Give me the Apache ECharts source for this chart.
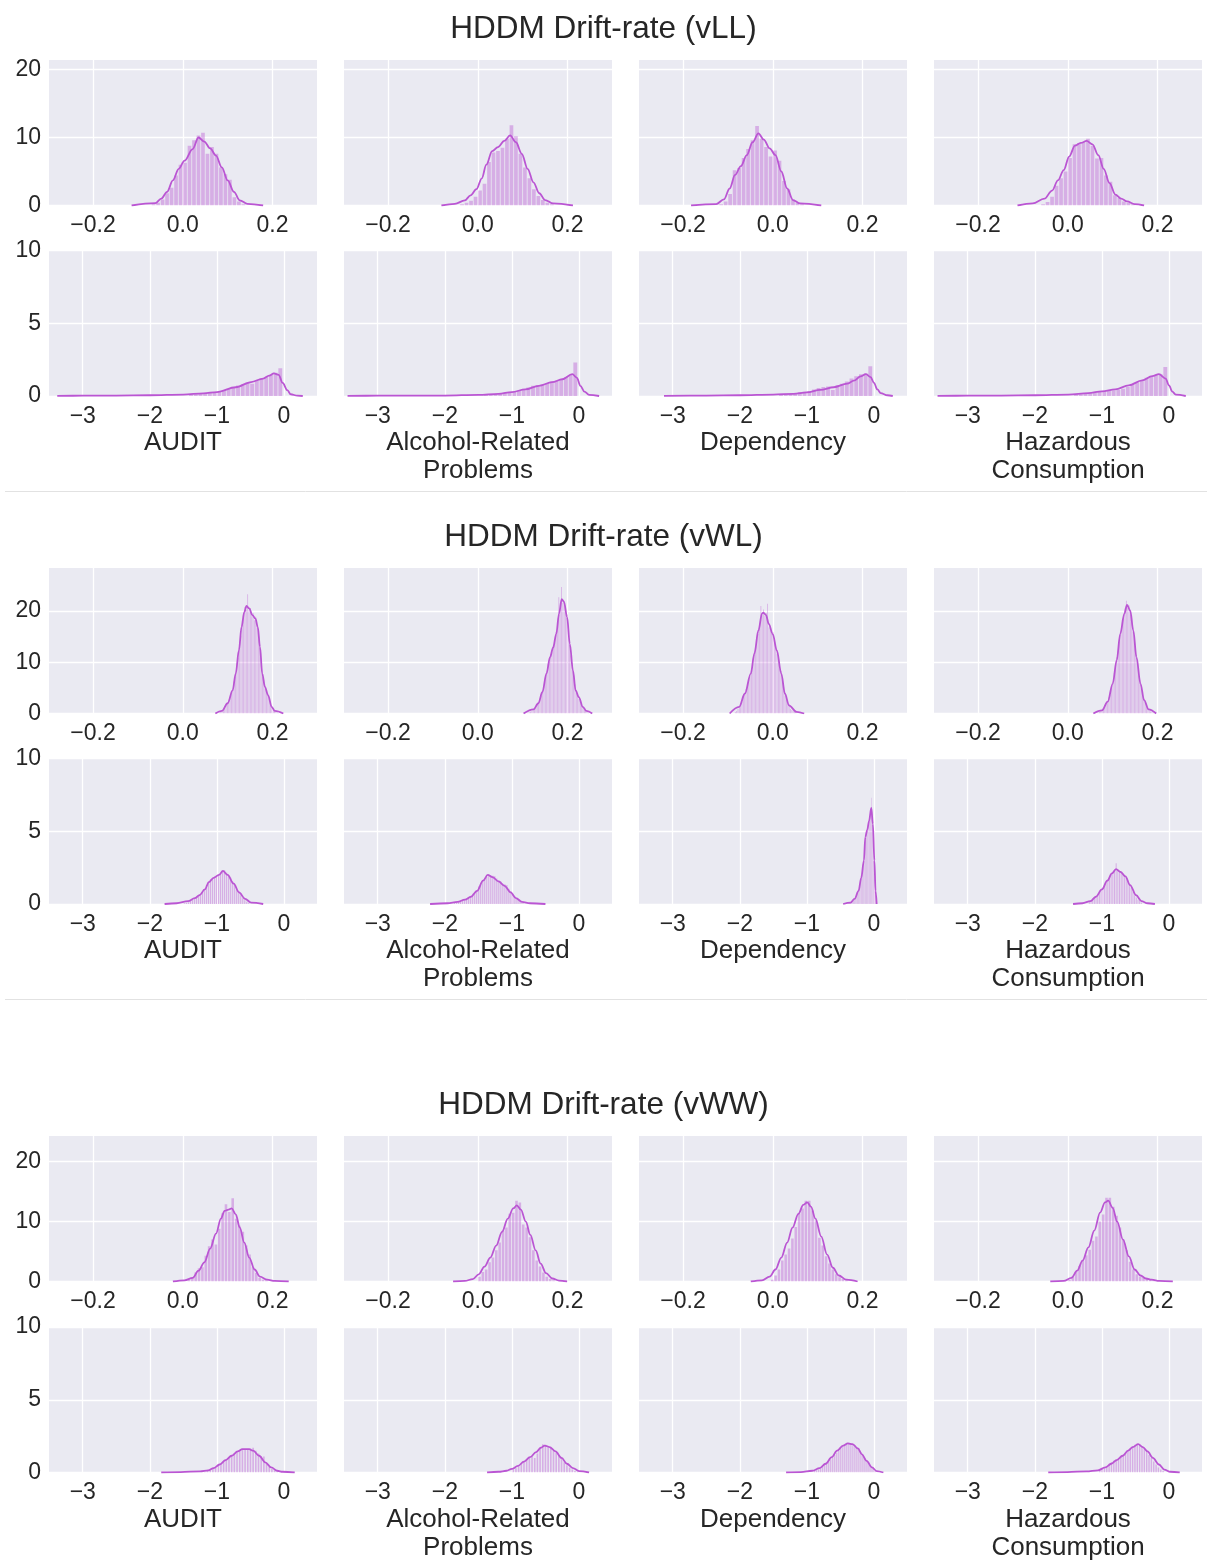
<!DOCTYPE html>
<html><head><meta charset="utf-8">
<script src="https://cdn.jsdelivr.net/npm/echarts@6/dist/echarts.min.js"></script>
<style>html,body{margin:0;padding:0;background:#fff;}#chart{width:1207px;height:1562px;}</style>
</head><body><div id="chart"></div>
<script>
// ---------- labels ----------
const sectionTitles = ['HDDM Drift-rate (vLL)', 'HDDM Drift-rate (vWL)', 'HDDM Drift-rate (vWW)'];
const measureNames = ['AUDIT', 'Alcohol-Related\nProblems', 'Dependency', 'Hazardous\nConsumption'];
const topXTicks = [-0.2, 0, 0.2];
const botXTicks = [-3, -2, -1, 0];
const topYTicks = [0, 10, 20];
const botYTicks = [0, 5, 10];

// ---------- vLL, upper row (bins = [first edge, width]) ----------
const LL_AUDIT_a_bins = [-0.07, 0.01];
const LL_AUDIT_a_hist = [0.2,0.4,0.9,1.8,2.6,4.4,6.0,6.3,8.8,9.6,10.3,10.7,7.6,8.6,7.6,5.6,4.6,3.8,1.2,0.6,0.2];
const LL_AUDIT_a_kde = [[-0.114,0],[-0.061,0.35],[-0.048,1.0],[-0.035,2.0],[-0.022,3.7],[-0.009,5.4],[0.004,6.6],[0.022,8.3],[0.035,10.0],[0.048,9.4],[0.061,8.4],[0.074,7.35],[0.087,5.6],[0.1,3.7],[0.114,2.0],[0.127,0.75],[0.144,0.25],[0.179,0]];
const LL_ARP_a_bins = [-0.04, 0.01];
const LL_ARP_a_hist = [0.2,0.4,0.7,1.3,2.2,3.2,6.4,7.8,8.0,8.5,9.8,11.8,10.2,7.6,5.6,4.0,2.4,1.4,0.8,0.4,0.2];
const LL_ARP_a_kde = [[-0.081,0],[-0.051,0.25],[-0.029,0.75],[-0.016,1.5],[-0.003,2.4],[0.009,4.0],[0.019,6.0],[0.032,8.0],[0.045,8.6],[0.059,9.5],[0.072,10.3],[0.085,9.3],[0.098,7.6],[0.111,5.4],[0.124,3.4],[0.137,1.8],[0.15,0.8],[0.168,0.3],[0.212,0]];
const LL_DEP_a_bins = [-0.12, 0.01];
const LL_DEP_a_hist = [0.2,0.6,1.7,5.2,5.5,7.0,8.3,9.6,11.7,9.8,8.6,7.2,8.1,6.6,3.6,2.4,0.9,0.4,0.2];
const LL_DEP_a_kde = [[-0.182,0],[-0.126,0.2],[-0.109,0.9],[-0.096,2.5],[-0.084,4.5],[-0.071,5.8],[-0.058,7.4],[-0.045,9.3],[-0.032,10.6],[-0.02,9.7],[-0.007,8.4],[0.006,7.4],[0.019,5.0],[0.032,2.5],[0.045,0.8],[0.061,0.3],[0.108,0]];
const LL_HAZ_a_bins = [-0.06, 0.01];
const LL_HAZ_a_hist = [0.2,0.5,1.3,2.9,4.0,5.0,7.0,9.0,9.2,9.3,9.8,8.8,6.9,7.0,4.4,3.5,1.5,1.1,0.6,0.4,0.2];
const LL_HAZ_a_kde = [[-0.112,0],[-0.078,0.3],[-0.052,1.0],[-0.035,2.2],[-0.022,3.7],[-0.009,5.2],[0.003,7.2],[0.016,8.8],[0.029,9.2],[0.042,9.5],[0.055,9.0],[0.068,7.4],[0.08,5.4],[0.093,3.3],[0.106,1.6],[0.119,1.0],[0.132,0.6],[0.149,0.2],[0.17,0]];

// ---------- vLL, lower row ----------
const LL_AUDIT_b_bins = [-1.42, 0.07];
const LL_AUDIT_b_hist = [0.1,0.12,0.15,0.18,0.22,0.28,0.33,0.42,0.48,0.55,0.72,0.8,0.92,0.85,1.05,1.2,1.3,1.45,1.6,1.9];
const LL_AUDIT_b_kde = [[-3.38,0.01],[-3.0,0.02],[-2.5,0.03],[-2.0,0.05],[-1.5,0.1],[-1.2,0.18],[-1.0,0.27],[-0.72,0.6],[-0.49,0.96],[-0.31,1.2],[-0.22,1.4],[-0.15,1.55],[-0.08,1.45],[-0.02,0.9],[0.05,0.4],[0.1,0.12],[0.2,0.02],[0.28,0]];
const LL_ARP_b_bins = [-1.42, 0.07];
const LL_ARP_b_hist = [0.08,0.1,0.13,0.17,0.2,0.25,0.3,0.38,0.45,0.58,0.7,0.75,0.8,0.88,1.0,1.05,1.15,1.3,1.45,2.3];
const LL_ARP_b_kde = [[-3.45,0.01],[-3.0,0.02],[-2.5,0.02],[-2.0,0.03],[-1.5,0.08],[-1.2,0.15],[-1.0,0.27],[-0.8,0.45],[-0.6,0.7],[-0.4,0.95],[-0.25,1.15],[-0.1,1.5],[-0.03,1.25],[0.02,0.7],[0.08,0.3],[0.15,0.08],[0.3,0]];
const LL_DEP_b_bins = [-1.42, 0.07];
const LL_DEP_b_hist = [0.1,0.12,0.15,0.2,0.25,0.3,0.35,0.45,0.55,0.62,0.65,0.42,0.75,0.85,1.0,1.2,1.35,1.5,1.55,2.05];
const LL_DEP_b_kde = [[-3.13,0.01],[-2.5,0.03],[-2.0,0.05],[-1.5,0.1],[-1.2,0.15],[-1.0,0.25],[-0.8,0.42],[-0.6,0.6],[-0.4,0.85],[-0.3,1.05],[-0.2,1.35],[-0.12,1.5],[-0.05,1.3],[0.0,0.9],[0.05,0.45],[0.1,0.2],[0.2,0.05],[0.28,0]];
const LL_HAZ_b_bins = [-1.42, 0.07];
const LL_HAZ_b_hist = [0.1,0.12,0.15,0.18,0.22,0.28,0.32,0.36,0.38,0.42,0.5,0.62,0.8,0.95,1.1,1.25,1.35,1.45,1.5,2.0];
const LL_HAZ_b_kde = [[-3.45,0.01],[-3.0,0.02],[-2.5,0.03],[-2.0,0.05],[-1.5,0.1],[-1.2,0.2],[-1.0,0.32],[-0.8,0.45],[-0.6,0.73],[-0.4,1.07],[-0.25,1.37],[-0.15,1.5],[-0.05,1.2],[0.0,0.73],[0.05,0.3],[0.1,0.1],[0.25,0]];

// ---------- vWL, upper row ----------
const WL_AUDIT_a_bins = [0.08, 0.003];
const WL_AUDIT_a_hist = [0.2,0.4,0.5,0.8,1.0,1.6,1.9,2.7,3.2,4.1,4.5,6.3,7.2,9.8,10.9,14.0,15.2,18.1,18.6,20.8,20.2,23.3,20.1,20.6,19.0,19.6,18.2,18.9,17.0,16.3,13.0,10.9,7.1,6.5,4.8,4.5,3.5,2.9,1.9,1.4,0.8,0.5,0.3,0.2,0.1];
const WL_AUDIT_a_kde = [[0.0725,0],[0.087,0.5],[0.1,2.0],[0.111,4.5],[0.118,7.8],[0.125,12.3],[0.131,16.9],[0.137,19.8],[0.142,21.0],[0.148,20.5],[0.155,19.2],[0.162,18.5],[0.167,16.9],[0.172,13.0],[0.177,7.8],[0.183,5.2],[0.19,3.6],[0.198,1.3],[0.205,0.5],[0.224,0]];
const WL_ARP_a_bins = [0.11, 0.003];
const WL_ARP_a_hist = [0.15,0.25,0.4,0.5,0.7,1.1,1.2,1.8,2.0,2.9,3.4,4.5,5.2,7.0,7.7,9.6,10.1,11.6,11.9,13.4,13.8,15.9,16.8,22.7,20.5,24.7,21.6,22.0,19.8,19.3,16.2,14.3,11.3,9.8,7.2,5.7,4.0,3.7,2.9,2.4,1.6,1.2,0.8,0.6,0.4,0.2];
const WL_ARP_a_kde = [[0.102,0],[0.124,0.8],[0.135,2.0],[0.144,4.2],[0.153,7.8],[0.161,11.0],[0.168,12.9],[0.175,15.6],[0.181,19.5],[0.187,22.3],[0.192,21.8],[0.199,18.8],[0.205,13.6],[0.212,8.4],[0.218,4.5],[0.225,3.2],[0.234,1.3],[0.242,0.5],[0.255,0]];
const WL_DEP_a_bins = [-0.085, 0.003];
const WL_DEP_a_hist = [0.3,0.5,0.9,1.3,2.0,2.3,3.2,3.7,4.8,5.3,6.8,7.2,8.8,9.6,11.8,12.6,14.9,15.5,17.6,21.0,19.2,20.3,19.1,19.6,21.4,16.8,17.2,15.5,15.9,13.8,13.5,11.6,10.9,8.8,8.3,6.2,5.2,3.5,2.9,1.9,1.6,0.9,0.7,0.5,0.3,0.2];
const WL_DEP_a_kde = [[-0.096,0],[-0.075,1.3],[-0.062,3.9],[-0.049,7.8],[-0.041,11.7],[-0.032,16.2],[-0.024,19.5],[-0.021,19.7],[-0.015,19.2],[-0.009,17.5],[0.0,15.5],[0.009,12.3],[0.019,7.8],[0.027,3.9],[0.036,1.6],[0.053,0.3],[0.07,0]];
const WL_HAZ_a_bins = [0.066, 0.003];
const WL_HAZ_a_hist = [0.2,0.3,0.5,0.6,0.9,1.2,1.9,2.2,3.1,3.7,5.2,5.8,7.9,8.8,11.0,12.3,15.0,16.0,18.3,18.6,20.5,22.0,20.6,21.1,19.3,18.7,15.9,14.8,11.6,10.2,7.6,6.6,4.9,4.1,2.7,2.2,1.4,1.0,0.6,0.4,0.3,0.15];
const WL_HAZ_a_kde = [[0.057,0],[0.076,0.6],[0.089,2.3],[0.1,5.8],[0.109,10.4],[0.117,15.6],[0.126,19.5],[0.132,21.2],[0.139,20.1],[0.146,16.2],[0.153,11.0],[0.162,5.8],[0.17,2.6],[0.18,0.8],[0.197,0]];

// ---------- vWL, lower row ----------
const WL_AUDIT_b_bins = [-1.5, 0.03];
const WL_AUDIT_b_hist = [0.05,0.08,0.12,0.2,0.3,0.35,0.45,0.5,0.6,0.8,1.0,1.3,1.5,1.7,1.8,1.9,1.95,2.0,2.1,2.25,2.3,2.15,2.0,1.8,1.55,1.3,1.05,0.85,0.6,0.4,0.25,0.15,0.08];
const WL_AUDIT_b_kde = [[-1.78,0],[-1.6,0.05],[-1.43,0.2],[-1.33,0.4],[-1.26,0.6],[-1.18,1.0],[-1.12,1.5],[-1.05,1.8],[-0.97,2.0],[-0.91,2.27],[-0.84,2.0],[-0.75,1.4],[-0.67,0.8],[-0.58,0.35],[-0.49,0.1],[-0.31,0]];
const WL_ARP_b_bins = [-1.87, 0.03];
const WL_ARP_b_hist = [0.1,0.12,0.15,0.2,0.3,0.32,0.35,0.45,0.55,0.7,0.8,0.95,1.2,1.4,1.6,1.75,1.85,1.95,2.0,1.95,1.9,1.75,1.6,1.55,1.4,1.35,1.3,1.05,0.9,0.7,0.5,0.35,0.25,0.15,0.1];
const WL_ARP_b_kde = [[-2.22,0],[-1.96,0.05],[-1.81,0.15],[-1.7,0.3],[-1.61,0.5],[-1.52,0.9],[-1.43,1.6],[-1.36,2.0],[-1.29,1.85],[-1.2,1.55],[-1.11,1.25],[-1.02,0.8],[-0.94,0.4],[-0.85,0.15],[-0.73,0.05],[-0.5,0]];
const WL_DEP_b_bins = [-0.4, 0.012];
const WL_DEP_b_hist = [0.05,0.07,0.08,0.09,0.12,0.15,0.2,0.25,0.3,0.4,0.5,0.6,0.7,0.85,1.0,1.25,1.5,1.8,2.1,2.5,2.9,3.4,4.4,4.9,5.0,5.2,5.5,5.8,6.1,6.5,7.3,5.8,4.5,3.3,1.8,0.6];
const WL_DEP_b_kde = [[-0.46,0],[-0.35,0.1],[-0.29,0.35],[-0.23,0.9],[-0.19,1.8],[-0.15,3.0],[-0.13,4.6],[-0.1,5.1],[-0.074,5.7],[-0.04,6.6],[-0.017,5.5],[0.006,3.0],[0.023,0.9],[0.04,0]];
const WL_HAZ_b_bins = [-1.2, 0.025];
const WL_HAZ_b_hist = [0.15,0.25,0.35,0.45,0.55,0.7,0.8,0.95,1.1,1.3,1.5,1.6,1.8,2.0,2.1,2.3,2.8,2.4,2.3,2.2,2.1,2.0,1.8,1.6,1.3,1.1,0.85,0.6,0.45,0.3,0.2,0.1];
const WL_HAZ_b_kde = [[-1.43,0],[-1.29,0.05],[-1.17,0.2],[-1.09,0.5],[-1.0,1.0],[-0.92,1.6],[-0.85,2.1],[-0.79,2.4],[-0.72,2.2],[-0.65,1.9],[-0.58,1.3],[-0.49,0.6],[-0.41,0.2],[-0.32,0.05],[-0.21,0]];

// ---------- vWW, upper row ----------
const WW_AUDIT_a_bins = [0.01, 0.0075];
const WW_AUDIT_a_hist = [0.3,0.6,1.5,2.2,2.4,4.3,5.9,7.0,6.2,8.8,11.4,12.9,11.6,13.9,10.5,9.3,8.3,6.0,4.5,2.4,1.4,0.6,0.3,0.2];
const WW_AUDIT_a_kde = [[-0.022,0],[0.004,0.2],[0.022,0.6],[0.035,1.8],[0.048,3.2],[0.061,5.5],[0.074,8.0],[0.085,10.5],[0.093,11.8],[0.102,12.0],[0.109,12.2],[0.118,11.2],[0.127,9.0],[0.137,6.5],[0.148,4.0],[0.16,2.0],[0.172,0.8],[0.188,0.3],[0.205,0.1],[0.236,0]];
const WW_ARP_a_bins = [0.0, 0.0075];
const WW_ARP_a_hist = [0.8,1.6,2.0,3.2,4.0,5.2,6.5,8.5,9.0,11.3,11.5,13.5,13.2,9.5,9.0,7.4,5.2,3.5,2.5,1.5,0.8,0.4,0.2];
const WW_ARP_a_kde = [[-0.055,0],[-0.029,0.1],[-0.011,0.4],[0.002,1.2],[0.015,2.5],[0.028,4.0],[0.041,6.0],[0.054,8.3],[0.067,10.5],[0.079,12.2],[0.087,12.7],[0.096,12.0],[0.107,10.0],[0.117,7.8],[0.129,5.2],[0.14,3.0],[0.152,1.4],[0.166,0.5],[0.181,0.15],[0.199,0]];
const WW_DEP_a_bins = [-0.005, 0.0075];
const WW_DEP_a_hist = [0.3,1.0,2.0,3.5,4.5,5.5,7.2,9.1,11.4,12.2,13.5,13.5,11.8,10.2,7.3,6.0,4.2,3.0,2.0,1.2,0.7,0.4,0.2];
const WW_DEP_a_kde = [[-0.049,0],[-0.024,0.2],[-0.007,0.8],[0.006,2.0],[0.019,4.0],[0.032,6.5],[0.044,9.0],[0.057,11.3],[0.068,12.8],[0.077,13.2],[0.085,12.5],[0.095,10.5],[0.108,7.5],[0.121,4.5],[0.134,2.3],[0.147,1.0],[0.164,0.3],[0.189,0]];
const WW_HAZ_a_bins = [0.0, 0.0075];
const WW_HAZ_a_hist = [0.3,0.8,1.6,2.6,3.5,4.4,5.3,6.8,7.5,10.0,11.2,14.0,14.0,12.5,11.0,9.0,7.0,5.2,3.3,2.0,1.2,0.8,0.6,0.4,0.3,0.2];
const WW_HAZ_a_kde = [[-0.039,0],[-0.009,0.1],[0.008,0.6],[0.021,1.8],[0.033,3.5],[0.046,5.7],[0.059,8.5],[0.072,11.5],[0.083,13.2],[0.09,13.5],[0.1,12.3],[0.11,10.0],[0.123,7.0],[0.136,4.2],[0.149,2.0],[0.162,1.0],[0.174,0.5],[0.187,0.3],[0.204,0.1],[0.234,0]];

// ---------- vWW, lower row ----------
const WW_AUDIT_b_bins = [-1.2, 0.04];
const WW_AUDIT_b_hist = [0.05,0.1,0.15,0.25,0.35,0.5,0.6,0.75,0.9,1.0,1.15,1.3,1.45,1.55,1.6,1.6,1.6,1.65,1.7,1.5,1.3,1.1,1.1,0.65,0.4,0.25,0.15,0.08];
const WW_AUDIT_b_kde = [[-1.83,0],[-1.54,0.03],[-1.25,0.08],[-1.13,0.15],[-1.05,0.3],[-0.96,0.55],[-0.87,0.85],[-0.78,1.15],[-0.69,1.45],[-0.62,1.6],[-0.52,1.6],[-0.46,1.5],[-0.37,1.15],[-0.28,0.7],[-0.19,0.35],[-0.1,0.12],[-0.02,0.05],[0.16,0]];
const WW_ARP_b_bins = [-1.0, 0.04];
const WW_ARP_b_hist = [0.2,0.3,0.45,0.6,0.75,0.9,1.05,1.1,1.0,1.3,1.65,1.95,1.9,1.8,1.7,1.5,1.35,1.2,1.0,0.7,0.5,0.35,0.2,0.1,0.05];
const WW_ARP_b_kde = [[-1.37,0],[-1.2,0.05],[-1.08,0.12],[-1.0,0.25],[-0.91,0.45],[-0.82,0.75],[-0.73,1.05],[-0.64,1.4],[-0.57,1.7],[-0.51,1.85],[-0.44,1.75],[-0.35,1.45],[-0.26,1.0],[-0.18,0.6],[-0.09,0.3],[0.0,0.1],[0.15,0]];
const WW_DEP_b_bins = [-0.9, 0.03];
const WW_DEP_b_hist = [0.1,0.15,0.2,0.3,0.4,0.5,0.6,0.75,0.9,1.05,1.2,1.35,1.5,1.65,1.8,1.9,2.0,2.05,2.0,1.95,1.85,1.7,1.55,1.4,1.2,1.0,0.8,0.6,0.4,0.25,0.12];
const WW_DEP_b_kde = [[-1.31,0],[-1.09,0.03],[-0.92,0.12],[-0.81,0.3],[-0.72,0.6],[-0.63,1.05],[-0.55,1.5],[-0.46,1.85],[-0.39,2.0],[-0.32,1.95],[-0.24,1.65],[-0.18,1.25],[-0.11,0.8],[-0.03,0.35],[0.04,0.1],[0.14,0]];
const WW_HAZ_b_bins = [-1.05, 0.035];
const WW_HAZ_b_hist = [0.15,0.25,0.35,0.45,0.6,0.7,0.8,0.9,1.0,1.1,1.2,1.35,1.5,1.65,1.8,1.9,2.0,1.95,1.8,1.65,1.45,1.2,1.0,0.75,0.55,0.35,0.2,0.1];
const WW_HAZ_b_kde = [[-1.8,0],[-1.51,0.03],[-1.23,0.08],[-1.06,0.15],[-0.95,0.35],[-0.86,0.6],[-0.78,0.85],[-0.69,1.15],[-0.61,1.5],[-0.54,1.75],[-0.46,1.95],[-0.39,1.75],[-0.32,1.45],[-0.24,1.0],[-0.15,0.55],[-0.07,0.2],[0.02,0.05],[0.16,0]];

// ---------- assemble panels: [section][row][column] ----------
const panels = [
  [
    [[LL_AUDIT_a_bins,LL_AUDIT_a_hist,LL_AUDIT_a_kde],[LL_ARP_a_bins,LL_ARP_a_hist,LL_ARP_a_kde],[LL_DEP_a_bins,LL_DEP_a_hist,LL_DEP_a_kde],[LL_HAZ_a_bins,LL_HAZ_a_hist,LL_HAZ_a_kde]],
    [[LL_AUDIT_b_bins,LL_AUDIT_b_hist,LL_AUDIT_b_kde],[LL_ARP_b_bins,LL_ARP_b_hist,LL_ARP_b_kde],[LL_DEP_b_bins,LL_DEP_b_hist,LL_DEP_b_kde],[LL_HAZ_b_bins,LL_HAZ_b_hist,LL_HAZ_b_kde]]
  ],
  [
    [[WL_AUDIT_a_bins,WL_AUDIT_a_hist,WL_AUDIT_a_kde],[WL_ARP_a_bins,WL_ARP_a_hist,WL_ARP_a_kde],[WL_DEP_a_bins,WL_DEP_a_hist,WL_DEP_a_kde],[WL_HAZ_a_bins,WL_HAZ_a_hist,WL_HAZ_a_kde]],
    [[WL_AUDIT_b_bins,WL_AUDIT_b_hist,WL_AUDIT_b_kde],[WL_ARP_b_bins,WL_ARP_b_hist,WL_ARP_b_kde],[WL_DEP_b_bins,WL_DEP_b_hist,WL_DEP_b_kde],[WL_HAZ_b_bins,WL_HAZ_b_hist,WL_HAZ_b_kde]]
  ],
  [
    [[WW_AUDIT_a_bins,WW_AUDIT_a_hist,WW_AUDIT_a_kde],[WW_ARP_a_bins,WW_ARP_a_hist,WW_ARP_a_kde],[WW_DEP_a_bins,WW_DEP_a_hist,WW_DEP_a_kde],[WW_HAZ_a_bins,WW_HAZ_a_hist,WW_HAZ_a_kde]],
    [[WW_AUDIT_b_bins,WW_AUDIT_b_hist,WW_AUDIT_b_kde],[WW_ARP_b_bins,WW_ARP_b_hist,WW_ARP_b_kde],[WW_DEP_b_bins,WW_DEP_b_hist,WW_DEP_b_kde],[WW_HAZ_b_bins,WW_HAZ_b_hist,WW_HAZ_b_kde]]
  ]
];

// ---------- layout / style ----------
const FONT = "'Liberation Sans', Arial, Helvetica, sans-serif";
const TXT = '#262626';
const colLeft = [49, 344, 639, 934];
const panelW = 268, panelH = 145.5;
const rowTops = [[60, 250.5], [568, 758.5], [1136, 1327]];
const titleTops = [13, 521, 1089];
const topYMax = [21.4, 28.4, 24.3];
const botYMax = 10;
const topXRange = [-0.298, 0.299];
const botXRange = [-3.503, 0.492];
const BAR_FILL = 'rgba(186,85,211,0.4)';
const KDE_COLOR = '#BA55D3';

function fmtTop(v){ if (Math.abs(v) < 1e-9) return '0.0'; return (v < 0 ? '\u2212' : '') + Math.abs(v).toFixed(1); }
function fmtBot(v){ if (Math.abs(v) < 1e-9) return '0'; return (v < 0 ? '\u2212' : '') + Math.abs(v); }
function histRows(bins, hist){ return hist.map((h, i) => [bins[0] + i * bins[1], bins[0] + (i + 1) * bins[1], h]); }

const grids = [], xAxes = [], yAxes = [], series = [], titles = [];
sectionTitles.forEach((t, s) => {
  titles.push({ text: t, left: 'center', top: titleTops[s], padding: 0,
    textStyle: { fontFamily: FONT, fontSize: 31.5, fontWeight: 'normal', color: TXT } });
});

let k = 0;
for (let s = 0; s < 3; s++) {
  for (let r = 0; r < 2; r++) {
    for (let c = 0; c < 4; c++) {
      const [bins, hist, kde] = panels[s][r][c];
      const isTop = r === 0;
      grids.push({ left: colLeft[c], top: rowTops[s][r], width: panelW, height: panelH,
        show: true, backgroundColor: '#EAEAF2', borderWidth: 0, containLabel: false, outerBoundsMode: 'none' });
      const xt = isTop ? topXTicks : botXTicks;
      const xr = isTop ? topXRange : botXRange;
      xAxes.push({
        type: 'value', gridIndex: k, min: xr[0], max: xr[1],
        axisLine: { show: false },
        axisTick: { show: false, customValues: xt },
        axisLabel: { show: true, customValues: xt, formatter: isTop ? fmtTop : fmtBot,
          fontFamily: FONT, fontSize: 23, color: TXT, margin: 9, hideOverlap: false },
        splitLine: { show: true, lineStyle: { color: '#ffffff', width: 1.3 } },
        name: isTop ? '' : measureNames[c], nameLocation: 'middle', nameGap: 33, nameMoveOverlap: false,
        nameTextStyle: { fontFamily: FONT, fontSize: 26, color: TXT, lineHeight: 28 }
      });
      const yt = isTop ? topYTicks : botYTicks;
      yAxes.push({
        type: 'value', gridIndex: k, min: 0, max: isTop ? topYMax[s] : botYMax,
        axisLine: { show: false },
        axisTick: { show: false, customValues: yt },
        axisLabel: { show: c === 0, customValues: yt, fontFamily: FONT, fontSize: 23, color: TXT, margin: 8, hideOverlap: false },
        splitLine: { show: true, lineStyle: { color: '#ffffff', width: 1.3 } }
      });
      series.push({
        type: 'custom', xAxisIndex: k, yAxisIndex: k, silent: true, clip: true,
        data: histRows(bins, hist), encode: { x: [0, 1], y: 2 },
        renderItem: function (params, api) {
          const p0 = api.coord([api.value(0), 0]);
          const p1 = api.coord([api.value(1), api.value(2)]);
          let x = p0[0], w = p1[0] - p0[0];
          if (w > 3) { x += 0.4; w -= 0.8; }
          else { x += w * 0.2; w *= 0.6; }
          return { type: 'rect', shape: { x: x, y: p1[1], width: w, height: p0[1] - p1[1] },
            style: { fill: BAR_FILL } };
        },
        z: 2
      });
      series.push({
        type: 'line', xAxisIndex: k, yAxisIndex: k, data: kde, smooth: 0.35, smoothMonotone: 'x',
        showSymbol: false, symbol: 'none', silent: true, clip: true,
        lineStyle: { color: KDE_COLOR, width: 1.8 }, z: 3
      });
      k++;
    }
  }
}

const chart = echarts.init(document.getElementById('chart'), null, { renderer: 'canvas' });
chart.setOption({
  animation: false,
  backgroundColor: '#ffffff',
  textStyle: { fontFamily: FONT },
  title: titles,
  grid: grids, xAxis: xAxes, yAxis: yAxes, series: series,
  graphic: [
    { type: 'line', shape: { x1: 5, y1: 491.5, x2: 1207, y2: 491.5 }, style: { stroke: '#E2E2E2', lineWidth: 1 }, silent: true },
    { type: 'line', shape: { x1: 5, y1: 999.5, x2: 1207, y2: 999.5 }, style: { stroke: '#E2E2E2', lineWidth: 1 }, silent: true }
  ]
});
</script></body></html>
